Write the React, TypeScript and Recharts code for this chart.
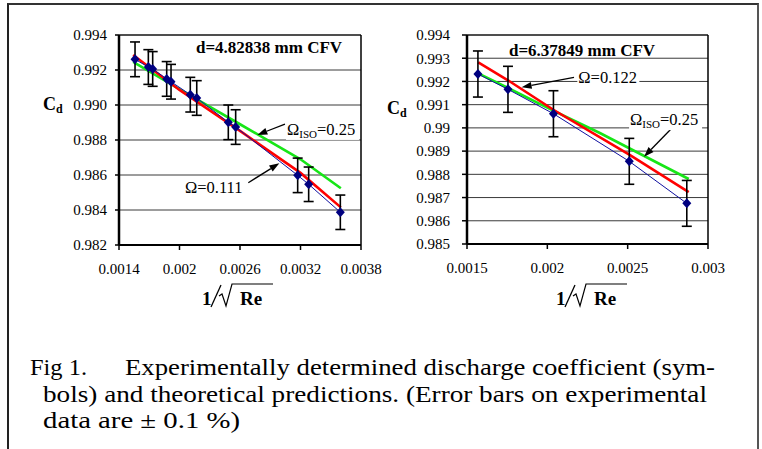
import React from 'react';
import {
  ComposedChart,
  Line,
  Scatter,
  ErrorBar,
  XAxis,
  YAxis,
  CartesianGrid,
  ReferenceLine,
  ReferenceDot,
} from 'recharts';

const SERIF = '"Liberation Serif", "Times New Roman", serif';

// error bars on the experimental points are +/- 0.1 %
const ERROR_FRACTION = 0.001;

// ---- left panel, d = 4.82838 mm CFV ----
const leftX = [0.001559, 0.001691, 0.001734, 0.001873, 0.001916, 0.002107, 0.002171, 0.002484, 0.002557, 0.003172, 0.003281, 0.003595];
const leftCd = [0.99261, 0.99217, 0.99206, 0.99149, 0.99133, 0.99059, 0.9904, 0.98901, 0.98874, 0.98598, 0.98547, 0.98387];
const leftRedX = [0.00154, 0.002, 0.0026, 0.0032, 0.0036];
const leftRedCd = [0.99286, 0.99086, 0.98852, 0.98612, 0.98415];
const leftGreenX = [0.00154, 0.002, 0.0026, 0.0032, 0.0036];
const leftGreenCd = [0.99247, 0.9909, 0.9889, 0.9869, 0.98524];
const leftXTicks = [0.0014, 0.002, 0.0026, 0.0032, 0.0038];
const leftYTicks = [0.982, 0.984, 0.986, 0.988, 0.99, 0.992, 0.994];

// ---- right panel, d = 6.37849 mm CFV ----
const rightX = [0.001568, 0.001755, 0.002038, 0.00251, 0.002868];
const rightCd = [0.99232, 0.99166, 0.99061, 0.98856, 0.98675];
const rightRedX = [0.00157, 0.001755, 0.00204, 0.00251, 0.00288];
const rightRedCd = [0.99282, 0.99205, 0.99077, 0.98885, 0.98723];
const rightGreenX = [0.00157, 0.001755, 0.00204, 0.00233, 0.0026, 0.00288];
const rightGreenCd = [0.99235, 0.99172, 0.99073, 0.98977, 0.9888, 0.9878];
const rightXTicks = [0.0015, 0.002, 0.0025, 0.003];
const rightYTicks = [0.985, 0.986, 0.987, 0.988, 0.989, 0.99, 0.991, 0.992, 0.993, 0.994];

const toRows = (xs: number[], ys: number[]) => xs.map((x, i) => ({ x, y: ys[i] }));
const toPoints = (xs: number[], ys: number[]) =>
  xs.map((x, i) => ({ x, y: ys[i], err: ys[i] * ERROR_FRACTION }));

const Diamond = (props: any) => {
  const { cx, cy } = props;
  if (cx == null || cy == null) return null;
  return (
    <path
      d={`M${cx},${cy - 5}L${cx + 4.5},${cy}L${cx},${cy + 5}L${cx - 4.5},${cy}Z`}
      fill="#000080"
    />
  );
};

// annotation arrow, head at the second point of the segment
const Arrow = (props: any) => {
  const { x1, y1, x2, y2 } = props;
  const ang = Math.atan2(y2 - y1, x2 - x1);
  const len = 10;
  const hw = 3.5;
  const bx = x2 - len * Math.cos(ang);
  const by = y2 - len * Math.sin(ang);
  const ox = -Math.sin(ang) * hw;
  const oy = Math.cos(ang) * hw;
  return (
    <g>
      <line x1={x1} y1={y1} x2={bx} y2={by} stroke="#000" strokeWidth={1.3} />
      <path d={`M${x2},${y2}L${bx + ox},${by + oy}L${bx - ox},${by - oy}Z`} fill="#000" />
    </g>
  );
};

// Omega label, drawn from its start point on the baseline
const omegaShape = (sub: string, value: string, boxW: number) => (props: any) => {
  const { cx, cy } = props;
  if (cx == null || cy == null) return null;
  return (
    <g>
      <rect x={cx - 1} y={cy - 14} width={boxW} height={19} fill="#fff" />
      <text x={cx} y={cy} fontFamily={SERIF} fontSize={16.5} fill="#000">
        Ω
        {sub ? (
          <tspan fontSize={11} dy={3}>
            {sub}
          </tspan>
        ) : null}
        <tspan dy={sub ? -3 : 0}>{value}</tspan>
      </text>
    </g>
  );
};

const tickStyle = { fill: '#000', fontSize: 15, fontFamily: SERIF };

interface PanelProps {
  width: number;
  margin: { top: number; right: number; bottom: number; left: number };
  xDomain: [number, number];
  yDomain: [number, number];
  xTicks: number[];
  yTicks: number[];
  yFormat: (v: number) => string;
  yTickSize: number;
  yTickMargin: number;
  points: { x: number; y: number; err: number }[];
  red: { x: number; y: number }[];
  green: { x: number; y: number }[];
  children?: React.ReactNode;
}

function Panel(p: PanelProps) {
  const blue = p.points.map((d) => ({ x: d.x, y: d.y }));
  return (
    <ComposedChart width={p.width} height={320} margin={p.margin} style={{ overflow: 'visible' }}>
      <CartesianGrid vertical={false} stroke="#3a3a3a" strokeWidth={1} />
      <XAxis
        type="number"
        dataKey="x"
        domain={p.xDomain}
        ticks={p.xTicks}
        allowDataOverflow
        interval={0}
        height={40}
        tick={tickStyle}
        tickSize={5}
        tickMargin={13}
        tickFormatter={(v: number) => String(+v.toFixed(4))}
        axisLine={{ stroke: '#000', strokeWidth: 2 }}
        tickLine={{ stroke: '#000', strokeWidth: 1.5 }}
      />
      <YAxis
        type="number"
        domain={p.yDomain}
        ticks={p.yTicks}
        allowDataOverflow
        interval={0}
        width={60}
        tick={tickStyle}
        tickSize={p.yTickSize}
        tickMargin={p.yTickMargin}
        tickFormatter={p.yFormat}
        axisLine={{ stroke: '#000', strokeWidth: 2.5 }}
        tickLine={{ stroke: '#000', strokeWidth: 1.5 }}
      />
      <ReferenceLine x={p.xDomain[1]} stroke="#000" strokeWidth={1.5} />
      <ReferenceLine y={p.yDomain[1]} stroke="#000" strokeWidth={1} />
      <Line data={p.green} dataKey="y" type="linear" stroke="#17e617" strokeWidth={2.6} dot={false} isAnimationActive={false} />
      <Line data={p.red} dataKey="y" type="linear" stroke="#ff0000" strokeWidth={2.6} dot={false} isAnimationActive={false} />
      <Line data={blue} dataKey="y" type="linear" stroke="#1010a0" strokeWidth={1} dot={false} isAnimationActive={false} />
      <Scatter data={p.points} dataKey="y" shape={Diamond} isAnimationActive={false}>
        <ErrorBar dataKey="err" direction="y" width={5} stroke="#000" strokeWidth={1.6} isAnimationActive={false} />
      </Scatter>
      {p.children}
    </ComposedChart>
  );
}

export default function App() {
  return (
    <div
      style={{
        position: 'absolute',
        left: 0,
        top: 0,
        width: 762,
        height: 449,
        overflow: 'hidden',
        background: '#fff',
      }}
    >
      <div
        style={{
          position: 'absolute',
          left: 7,
          top: 3,
          width: 748,
          height: 480,
          borderTop: '2px solid #333',
          borderLeft: '2px solid #222',
          borderRight: '2px solid #555',
        }}
      />

      <div style={{ position: 'absolute', left: 0, top: 0 }}>
        <Panel
          width={400}
          margin={{ top: 35, right: 39, bottom: 35, left: 59 }}
          xDomain={[0.0014, 0.0038]}
          yDomain={[0.982, 0.994]}
          xTicks={leftXTicks}
          yTicks={leftYTicks}
          yFormat={(v: number) => v.toFixed(3)}
          yTickSize={4}
          yTickMargin={8}
          points={toPoints(leftX, leftCd)}
          red={toRows(leftRedX, leftRedCd)}
          green={toRows(leftGreenX, leftGreenCd)}
        >
          <ReferenceLine
            segment={[{ x: 0.003046, y: 0.98891 }, { x: 0.002772, y: 0.98829 }]}
            shape={Arrow}
          />
          <ReferenceLine
            segment={[{ x: 0.002682, y: 0.98556 }, { x: 0.00299, y: 0.98667 }]}
            shape={Arrow}
          />
          <ReferenceDot x={0.003066} y={0.98829} r={0} shape={omegaShape('ISO', '=0.25', 73)} />
          <ReferenceDot x={0.002055} y={0.98499} r={0} shape={omegaShape('', '=0.111', 64)} />
        </Panel>
      </div>

      <div style={{ position: 'absolute', left: 380, top: 0 }}>
        <Panel
          width={380}
          margin={{ top: 35, right: 52, bottom: 36, left: 27 }}
          xDomain={[0.0015, 0.003]}
          yDomain={[0.985, 0.994]}
          xTicks={rightXTicks}
          yTicks={rightYTicks}
          yFormat={(v: number) => String(+v.toFixed(3))}
          yTickSize={5}
          yTickMargin={12}
          points={toPoints(rightX, rightCd)}
          red={toRows(rightRedX, rightRedCd)}
          green={toRows(rightGreenX, rightGreenCd)}
        >
          <ReferenceLine
            segment={[{ x: 0.002166, y: 0.99218 }, { x: 0.00184, y: 0.99175 }]}
            shape={Arrow}
          />
          <ReferenceLine
            segment={[{ x: 0.002788, y: 0.99008 }, { x: 0.002602, y: 0.98876 }]}
            shape={Arrow}
          />
          <ReferenceDot x={0.002193} y={0.99192} r={0} shape={omegaShape('', '=0.122', 62)} />
          <ReferenceDot x={0.002515} y={0.99012} r={0} shape={omegaShape('ISO', '=0.25', 73)} />
        </Panel>
      </div>

      {/* titles, axis labels and caption */}
      <svg
        width={762}
        height={449}
        style={{ position: 'absolute', left: 0, top: 0, pointerEvents: 'none' }}
        fontFamily={SERIF}
      >
        <text x={269} y={53} textAnchor="middle" fontWeight="bold" fontSize={17}>
          d=4.82838 mm CFV
        </text>
        <text x={582} y={56} textAnchor="middle" fontWeight="bold" fontSize={17}>
          d=6.37849 mm CFV
        </text>

        <text x={43} y={110} fontWeight="bold" fontSize={18}>
          C<tspan fontSize={12} dy={3}>d</tspan>
        </text>
        <text x={387} y={114} fontWeight="bold" fontSize={18}>
          C<tspan fontSize={12} dy={3}>d</tspan>
        </text>

        {[202, 556].map((x0) => (
          <g key={x0}>
            <text x={x0} y={305} fontWeight="bold" fontSize={19}>1</text>
            <line x1={x0 + 9} y1={307} x2={x0 + 19} y2={285} stroke="#000" strokeWidth={1.3} />
            <path
              d={`M${x0 + 17},${296} L${x0 + 20},${294} L${x0 + 24},${306} L${x0 + 30},${284} L${x0 + 71},${284}`}
              fill="none"
              stroke="#000"
              strokeWidth={1.2}
            />
            <text x={x0 + 38} y={305} fontWeight="bold" fontSize={19}>Re</text>
          </g>
        ))}

        <g fontSize={23.5} fill="#000">
          <text x={30} y={375} textLength={57} lengthAdjust="spacingAndGlyphs">Fig 1.</text>
          <text x={125} y={375} textLength={590} lengthAdjust="spacingAndGlyphs">
            Experimentally determined discharge coefficient (sym-
          </text>
          <text x={43} y={401.5} textLength={664} lengthAdjust="spacingAndGlyphs">
            bols) and theoretical predictions. (Error bars on experimental
          </text>
          <text x={43} y={428} textLength={197} lengthAdjust="spacingAndGlyphs">
            data are ± 0.1 %)
          </text>
        </g>
      </svg>
    </div>
  );
}
